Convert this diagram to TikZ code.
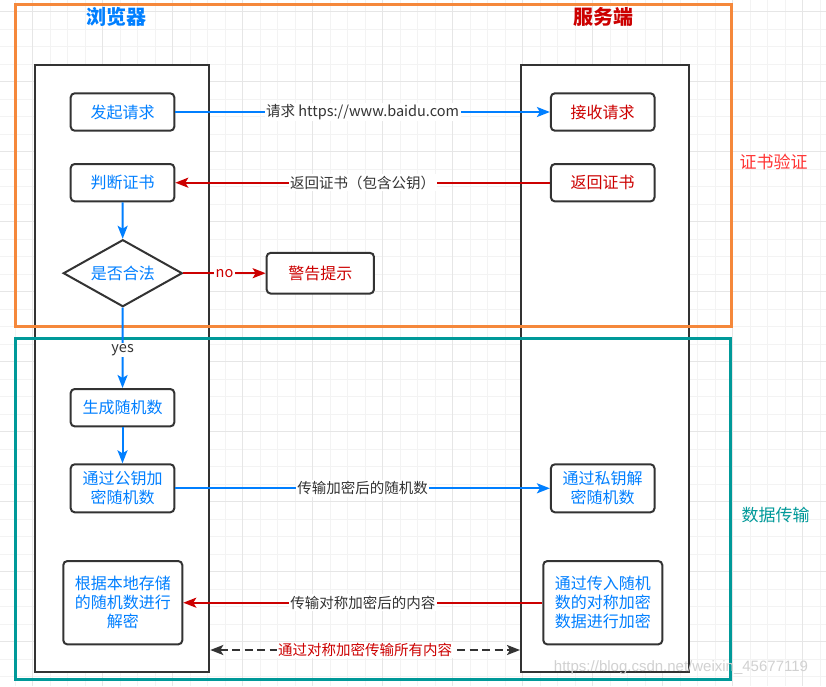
\documentclass[tikz,border=0pt]{standalone}
\usepackage{fontspec}
\setmainfont{Noto Sans CJK SC}
\newfontfamily\wmfont{Liberation Sans}
\usetikzlibrary{shapes.geometric,arrows.meta}
\definecolor{cblue}{HTML}{007FFF}
\definecolor{cred}{HTML}{CC0000}
\definecolor{cdark}{HTML}{333333}
\definecolor{corange}{HTML}{F5883B}
\definecolor{cteal}{HTML}{009999}
\definecolor{gminor}{HTML}{F3F3F3}
\definecolor{gmajor}{HTML}{E6E6E6}
\definecolor{clabred}{HTML}{FF3333}
\begin{document}
\begin{tikzpicture}[x=1pt,y=-1pt,
  boxstyle/.style={draw=cdark, line width=2pt, rounded corners=4pt, fill=white, inner sep=0pt, align=center,
    font=\fontsize{16}{19}\selectfont, text=cblue, minimum width=103.6pt, minimum height=37.4pt},
  lane/.style={draw=cdark, line width=2pt, fill=white, inner sep=0pt},
  framebox/.style={line width=3pt, inner sep=0pt},
  elabel/.style={fill=white, text=cdark, font=\fontsize{14.5}{17}\selectfont, inner sep=1.5pt},
  tip/.style={Stealth[length=13pt,width=10pt,inset=3pt]},
  barr/.style={draw=cblue, line width=2pt, -{Stealth[length=13pt,width=10pt,inset=3pt]}},
  rarr/.style={draw=cred, line width=2pt, -{Stealth[length=13pt,width=10pt,inset=3pt]}},
  darr/.style={draw=cdark, line width=2pt, dash pattern=on 8pt off 4.5pt,
    {Stealth[length=13pt,width=10pt,inset=3pt]}-{Stealth[length=13pt,width=10pt,inset=3pt]}},
]
\useasboundingbox (0,0) rectangle (826,686);
\fill[white] (0,0) rectangle (826,686);
% grid
\foreach \i in {0,...,46} { \draw[gminor, line width=1pt] ({15.2+17.5*\i},0) -- ++(0,686); }
\foreach \i in {0,...,38} { \draw[gminor, line width=1pt] (0,{11.7+17.5*\i}) -- ++(826,0); }
\foreach \i in {0,...,11} { \draw[gmajor, line width=1pt] ({32.7+70*\i},0) -- ++(0,686); }
\foreach \i in {0,...,9} { \draw[gmajor, line width=1pt] (0,{11.7+70*\i}) -- ++(826,0); }

% lanes
\node[lane, minimum width=174pt, minimum height=607pt] (bl) at (122.3,368.8) {};
\node[lane, minimum width=168pt, minimum height=607pt] (sl) at (605,368.8) {};

% frames
\node[framebox, draw=corange, minimum width=716.7pt, minimum height=321.7pt] (f1) at (373.35,165.15) {};
\node[framebox, draw=cteal, minimum width=715.3pt, minimum height=340.7pt] (f2) at (372.65,508.65) {};

% titles
\node[font=\fontsize{20}{24}\selectfont\bfseries, text=cblue] (t1) at (116.7,17) {浏览器};
\node[font=\fontsize{20}{24}\selectfont\bfseries, text=cred] (t2) at (603,17) {服务端};
\node[font=\fontsize{17}{20}\selectfont, text=clabred] (s1) at (773.7,162) {证书验证};
\node[font=\fontsize{17}{20}\selectfont, text=cteal] (s2) at (775.5,515) {数据传输};

% boxes
\node[boxstyle] (req) at (122.5,112) {发起请求};
\node[boxstyle] (judge) at (122.5,182.7) {判断证书};
\node[draw=cdark, line width=2pt, fill=white, diamond, aspect=1.776, minimum width=119pt, minimum height=67pt,
  inner sep=0pt, text=cblue, font=\fontsize{16}{19}\selectfont] (legal) at (122.8,273.2) {是否合法};
\node[boxstyle, text=cred, minimum width=107.3pt, minimum height=40.7pt] (warn) at (320.3,273.2) {警告提示};
\node[boxstyle, text=cred] (recv) at (602.7,112) {接收请求};
\node[boxstyle, text=cred] (ret) at (602.7,182.7) {返回证书};
\node[boxstyle] (gen) at (122.5,407.7) {生成随机数};
\node[boxstyle, minimum height=48pt] (enc) at (122.5,488.3) {通过公钥加\\密随机数};
\node[boxstyle, minimum height=48pt] (dec) at (602.7,488.3) {通过私钥解\\密随机数};
\node[boxstyle, minimum width=119pt, minimum height=83.3pt] (loc) at (122.8,602.7) {根据本地存储\\的随机数进行\\解密};
\node[boxstyle, minimum width=119pt, minimum height=83.3pt] (snd) at (602.8,602.7) {通过传入随机\\数的对称加密\\数据进行加密};

% edges
\draw[barr] (req) -- (recv) node[elabel, midway] {请求 https://www.baidu.com};
\draw[rarr] (ret) -- (judge) node[elabel, midway] {返回证书（包含公钥）};
\draw[barr] (judge) -- (legal);
\draw[rarr] (legal) -- (warn) node[elabel, midway, text=cred] {no};
\draw[barr] (legal) -- (gen) node[elabel, pos=0.53] {yes};
\draw[barr] (gen) -- (enc);
\draw[barr] (enc) -- (dec) node[elabel, midway] {传输加密后的随机数};
\draw[rarr] (snd) -- (loc) node[elabel, midway] {传输对称加密后的内容};
\coordinate (da) at (bl.east |- 0,650);
\coordinate (db) at (sl.west |- 0,650);
\draw[darr] (da) -- (db) node[elabel, midway, text=cred] {通过对称加密传输所有内容};

% watermark
\node[font=\wmfont\fontsize{15}{18}\selectfont, text=black!18] (wm) at (681,668) {https://blog.csdn.net/weixin\_45677119};
\end{tikzpicture}
\end{document}
